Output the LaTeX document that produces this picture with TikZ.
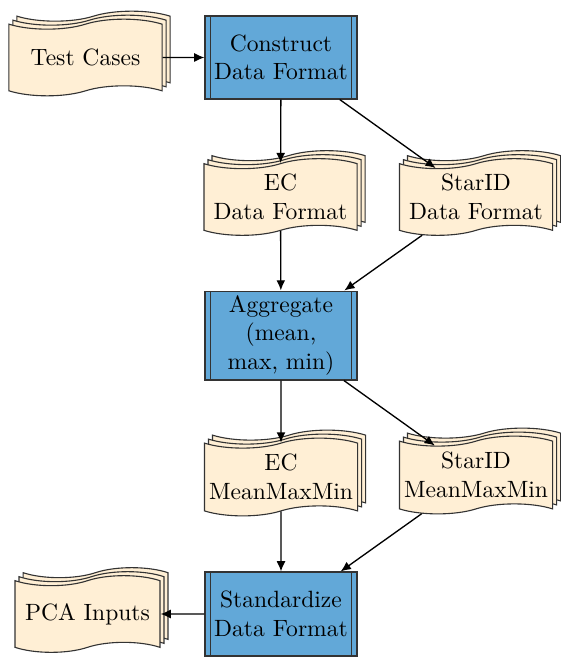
\documentclass[tikz,border=0pt]{standalone}
\usetikzlibrary{shapes.symbols,shadows,arrows.meta}
\definecolor{docfill}{HTML}{FFEFD5}
\definecolor{procfill}{HTML}{62A8D8}
\definecolor{edgegray}{HTML}{333333}
\begin{document}
\begin{tikzpicture}[x=0.45pt,y=-0.45pt,
  every node/.style={font=\fontsize{10.6}{12.8}\selectfont},
  doc/.style={tape, draw=edgegray, fill=docfill, align=center, inner sep=1pt,
    tape bend height=4.5pt, line width=0.5pt,
    copy shadow={shadow xshift=3.6pt, shadow yshift=3.6pt, fill=docfill, draw=edgegray},
    copy shadow={shadow xshift=1.8pt, shadow yshift=1.8pt, fill=docfill, draw=edgegray}},
  proc/.style={rectangle, draw=edgegray, fill=procfill, align=center, inner sep=1pt,
    minimum width=68.4pt, line width=0.5pt,
    path picture={
      \draw[edgegray, line width=0.5pt] ([xshift=2.3pt]path picture bounding box.north west) -- ([xshift=2.3pt]path picture bounding box.south west);
      \draw[edgegray, line width=0.5pt] ([xshift=-2.3pt]path picture bounding box.north east) -- ([xshift=-2.3pt]path picture bounding box.south east);}},
  flow/.style={-{Latex[length=4.6pt,width=4pt]}, line width=0.6pt, black}]
\useasboundingbox (0,0) rectangle (560,657);

\node[doc, minimum width=68.9pt, minimum height=34.5pt] (tc) at (85.5,57.5) {Test Cases};
\node[proc, minimum height=37.35pt] (con) at (281,57.5) {Construct\\Data Format};
\node[doc, minimum width=68.9pt, minimum height=34.5pt] (ecd) at (280.5,197) {EC\\Data Format};
\node[doc, minimum width=68.9pt, minimum height=34.5pt] (sd) at (476,197) {StarID\\Data Format};
\node[proc, minimum height=40pt] (agg) at (281,335.5) {Aggregate\\(mean,\\max, min)};
\node[doc, minimum width=68.9pt, minimum height=35pt] (ecm) at (281,477) {EC\\MeanMaxMin};
\node[doc, minimum width=68.9pt, minimum height=35pt] (sm) at (476,475) {StarID\\MeanMaxMin};
\node[proc, minimum height=37.8pt] (std) at (281,614) {Standardize\\Data Format};
\node[doc, minimum width=65.2pt, minimum height=34.5pt] (pca) at (87.5,614) {PCA Inputs};

\draw[flow] (tc) -- (con);
\draw[flow] (con) -- (ecd);
\draw[flow] (con) -- (sd);
\draw[flow] (ecd) -- (agg);
\draw[flow] (sd) -- (agg);
\draw[flow] (agg) -- (ecm);
\draw[flow] (agg) -- (sm);
\draw[flow] (ecm) -- (std);
\draw[flow] (sm) -- (std);
\draw[flow] (std) -- (pca);
\end{tikzpicture}
\end{document}
